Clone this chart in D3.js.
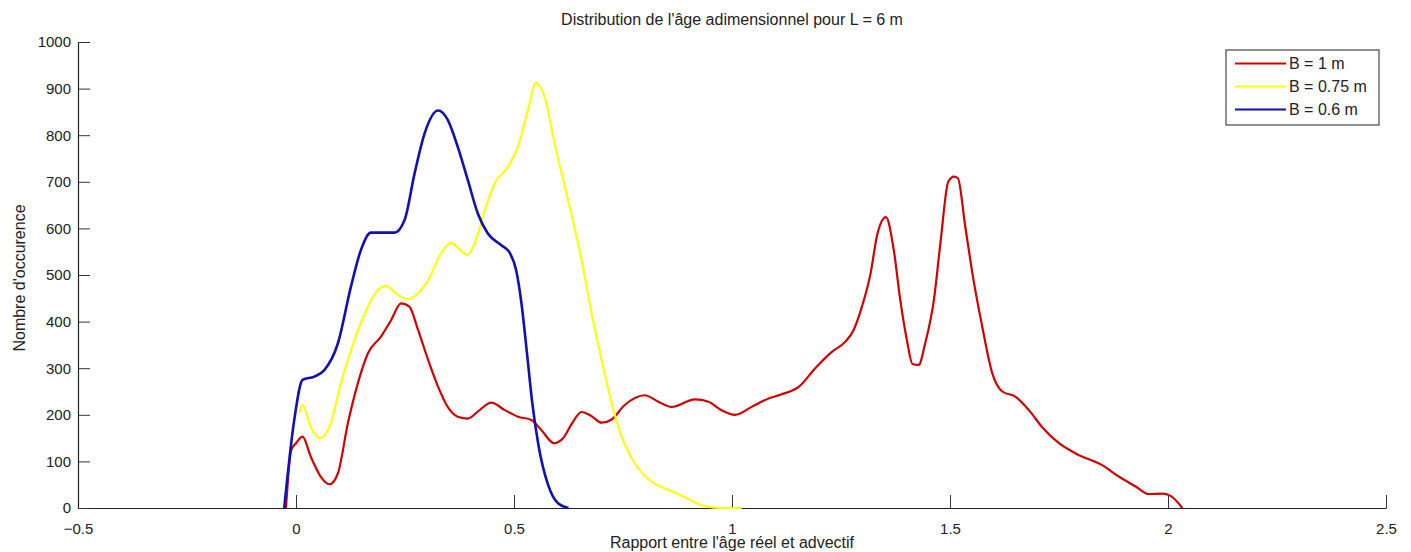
<!DOCTYPE html>
<html>
<head>
<meta charset="utf-8">
<script src="https://cdn.jsdelivr.net/npm/d3@7"></script>
<style>
  html, body { margin: 0; padding: 0; background: #fff; }
  svg { display: block; }
  text { font-family: "Liberation Sans", Arial, sans-serif; fill: #222; }
</style>
</head>
<body>
<svg id="chart" width="1411" height="552"></svg>
<script>
// Age ratio (real / advective) on x, number of occurrences on y
const xTicks = [-0.5, 0, 0.5, 1, 1.5, 2, 2.5];
const yTicks = [0, 100, 200, 300, 400, 500, 600, 700, 800, 900, 1000];

// B = 1 m
const xB1 = [-0.023, -0.011, 0, 0.015, 0.034, 0.057, 0.077, 0.096, 0.119, 0.142, 0.165, 0.195, 0.218, 0.241, 0.260, 0.280, 0.303, 0.326, 0.348, 0.371, 0.394, 0.417, 0.448, 0.479, 0.509, 0.540, 0.563, 0.592, 0.613, 0.632, 0.655, 0.678, 0.701, 0.724, 0.754, 0.800, 0.831, 0.861, 0.915, 0.946, 0.976, 1.007, 1.045, 1.084, 1.114, 1.153, 1.191, 1.229, 1.260, 1.279, 1.298, 1.318, 1.333, 1.353, 1.371, 1.386, 1.401, 1.414, 1.428, 1.443, 1.463, 1.478, 1.496, 1.509, 1.518, 1.535, 1.554, 1.574, 1.597, 1.620, 1.650, 1.681, 1.711, 1.750, 1.788, 1.849, 1.888, 1.926, 1.956, 1.987, 2.006, 2.033];
const yB1 = [0, 124, 139, 153, 110, 67, 51, 74, 182, 268, 332, 368, 403, 439, 432, 382, 318, 260, 217, 196, 192, 207, 226, 210, 196, 189, 167, 139, 150, 180, 206, 197, 183, 190, 221, 242, 228, 217, 233, 228, 210, 200, 217, 235, 244, 260, 300, 335, 357, 382, 432, 504, 586, 624, 554, 446, 361, 309, 307, 353, 446, 568, 700, 711, 708, 604, 489, 389, 289, 250, 239, 210, 174, 139, 117, 92, 67, 46, 30, 31, 26, 0];

// B = 0.75 m
const xB075 = [0.008, 0.015, 0.034, 0.056, 0.077, 0.103, 0.134, 0.165, 0.188, 0.207, 0.234, 0.257, 0.280, 0.303, 0.333, 0.356, 0.375, 0.393, 0.410, 0.433, 0.456, 0.486, 0.509, 0.532, 0.550, 0.570, 0.593, 0.624, 0.655, 0.678, 0.701, 0.724, 0.747, 0.777, 0.816, 0.854, 0.892, 0.930, 0.961, 1.022];
const yB075 = [205, 221, 174, 150, 174, 268, 360, 432, 468, 476, 457, 448, 461, 489, 547, 569, 555, 543, 568, 639, 697, 732, 775, 854, 913, 883, 783, 661, 532, 418, 318, 225, 153, 96, 56, 39, 23, 6, 1, 0];

// B = 0.6 m
const xB06 = [-0.027, -0.004, 0.015, 0.042, 0.065, 0.096, 0.126, 0.149, 0.172, 0.226, 0.249, 0.272, 0.295, 0.326, 0.348, 0.371, 0.394, 0.417, 0.440, 0.471, 0.490, 0.505, 0.517, 0.530, 0.542, 0.556, 0.578, 0.601, 0.625];
const yB06 = [0, 189, 275, 282, 296, 353, 475, 554, 591, 591, 618, 718, 804, 853, 833, 775, 704, 632, 589, 564, 548, 510, 440, 330, 225, 135, 50, 10, 0];

const seriesNames = ["B = 1 m", "B = 0.75 m", "B = 0.6 m"];
const seriesColors = ["#d00000", "#ffff10", "#1010b4"];

const series = [
  { name: seriesNames[0], color: seriesColors[0], width: 2.2, pts: xB1.map((x, i) => [x, yB1[i]]) },
  { name: seriesNames[1], color: seriesColors[1], width: 2.2, pts: xB075.map((x, i) => [x, yB075[i]]) },
  { name: seriesNames[2], color: seriesColors[2], width: 2.6, pts: xB06.map((x, i) => [x, yB06[i]]) }
];

const svg = d3.select("#chart");
const plotLeft = 78, plotRight = 1386, plotTop = 42, plotBottom = 508;

const x = d3.scaleLinear().domain([-0.5, 2.5]).range([plotLeft, plotRight]);
const y = d3.scaleLinear().domain([0, 1000]).range([plotBottom, plotTop]);

const fsTick = 15, fsText = 16;

// Bottom axis with inward ticks
const xAxis = svg.append("g").attr("transform", `translate(0,${plotBottom})`)
  .call(d3.axisBottom(x).tickValues(xTicks).tickSizeInner(-13).tickSizeOuter(0)
    .tickPadding(18).tickFormat(d3.format("")));
// Left axis with inward ticks
const yAxis = svg.append("g").attr("transform", `translate(${plotLeft},0)`)
  .call(d3.axisLeft(y).tickValues(yTicks).tickSizeInner(-12).tickSizeOuter(0)
    .tickPadding(7).tickFormat(d3.format("d")));

[xAxis, yAxis].forEach(g => {
  g.selectAll(".domain").attr("stroke", "#222").attr("stroke-width", 1.2);
  g.selectAll(".tick line").attr("stroke", "#333").attr("stroke-width", 1);
  g.selectAll(".tick text").attr("font-size", fsTick).attr("fill", "#222")
    .style("font-family", "'Liberation Sans', Arial, sans-serif");
});
xAxis.selectAll(".tick text").attr("dy", "0.5em");

// Curves
const line = d3.line().x(d => x(d[0])).y(d => y(d[1])).curve(d3.curveMonotoneX);
svg.append("g").selectAll("path").data(series).join("path")
  .attr("d", d => line(d.pts))
  .attr("fill", "none")
  .attr("stroke", d => d.color)
  .attr("stroke-width", d => d.width)
  .attr("stroke-linejoin", "round");

// Title and axis labels
svg.append("text").attr("x", (plotLeft + plotRight) / 2).attr("y", 25)
  .attr("text-anchor", "middle").attr("font-size", fsText)
  .text("Distribution de l'âge adimensionnel pour L = 6 m");
svg.append("text").attr("x", (plotLeft + plotRight) / 2).attr("y", 548)
  .attr("text-anchor", "middle").attr("font-size", fsText)
  .text("Rapport entre l'âge réel et advectif");
svg.append("text").attr("transform", `translate(25,${(plotTop + plotBottom) / 2 + 3}) rotate(-90)`)
  .attr("text-anchor", "middle").attr("font-size", fsText)
  .text("Nombre d'occurence");

// Legend
const lg = svg.append("g").attr("transform", "translate(1226,50)");
lg.append("rect").attr("width", 153).attr("height", 75)
  .attr("fill", "#fff").attr("stroke", "#222").attr("stroke-width", 1);
const item = lg.selectAll("g.item").data(series).join("g").attr("class", "item")
  .attr("transform", (d, i) => `translate(0,${13.5 + i * 23})`);
item.append("line").attr("x1", 9).attr("x2", 60)
  .attr("stroke", d => d.color).attr("stroke-width", 2);
item.append("text").attr("x", 63).attr("dy", "0.36em").attr("font-size", fsText)
  .text(d => d.name);
</script>
</body>
</html>
